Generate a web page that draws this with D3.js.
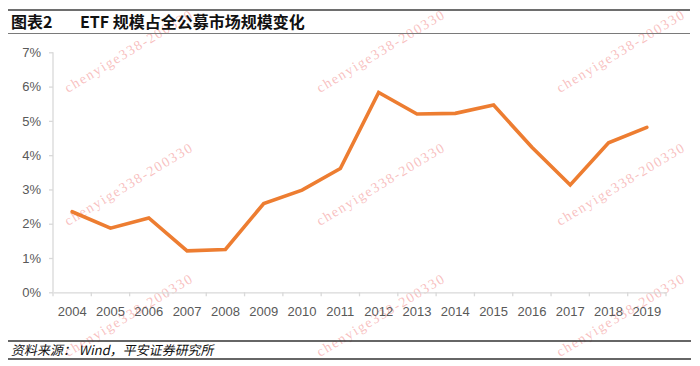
<!DOCTYPE html>
<html>
<head>
<meta charset="utf-8">
<script src="https://cdn.jsdelivr.net/npm/d3@7"></script>
<style>
  html, body { margin: 0; padding: 0; background: #fff; }
  svg { display: block; }
</style>
</head>
<body>
<svg id="chart" width="700" height="366"></svg>
<script>
// ---- data ----
const years = ["2004","2005","2006","2007","2008","2009","2010","2011","2012","2013","2014","2015","2016","2017","2018","2019"];
const etfShare = [2.35, 1.87, 2.17, 1.21, 1.25, 2.59, 2.98, 3.61, 5.83, 5.20, 5.22, 5.46, 4.23, 3.13, 4.36, 4.81];
const yTicks = [0, 1, 2, 3, 4, 5, 6, 7];
const titleLabel = "图表2";
const titleText = "ETF 规模占全公募市场规模变化";
const sourceText = "资料来源： Wind，平安证券研究所";
const watermarkText = "chenyige338-200330";

const svg = d3.select("#chart");
const plotL = 53, plotR = 666, plotT = 52.3, plotB = 292.3;

const x = d3.scaleBand().domain(years).range([plotL, plotR]);
const y = d3.scaleLinear().domain([0, 7]).range([plotB, plotT]);

// watermarks (drawn underneath)
const wmCols = [68, 320, 560];
const wmRows = [93, 226, 357];
const wm = [];
wmRows.forEach(r => wmCols.forEach(c => wm.push([c, r])));
svg.append("g").selectAll("text").data(wm).join("text")
  .attr("transform", d => `translate(${d[0]},${d[1]}) rotate(-31)`)
  .attr("font-family", "'Liberation Serif', serif").attr("font-size", 14)
  .attr("textLength", 146).attr("lengthAdjust", "spacing")
  .attr("fill", "#f28b8b").attr("fill-opacity", 0.55)
  .text(watermarkText);

// header lines
svg.append("line").attr("x1", 8).attr("x2", 690).attr("y1", 10).attr("y2", 10)
  .attr("stroke", "#6e6e6e").attr("stroke-width", 2);
svg.append("line").attr("x1", 8).attr("x2", 690).attr("y1", 33.5).attr("y2", 33.5)
  .attr("stroke", "#7a7a7a").attr("stroke-width", 1);

svg.append("text").attr("x", 11).attr("y", 28)
  .attr("font-family", "'Noto Sans CJK SC', sans-serif").attr("font-weight", "bold")
  .attr("font-size", 16).attr("fill", "#111").text(titleLabel);
svg.append("text").attr("x", 80).attr("y", 28)
  .attr("font-family", "'Noto Sans CJK SC', sans-serif").attr("font-weight", "bold")
  .attr("font-size", 16).attr("fill", "#111").text(titleText);

// axes
const yAxis = d3.axisLeft(y).tickValues(yTicks).tickSize(4).tickPadding(8)
  .tickFormat(d => d + "%");
const gy = svg.append("g").attr("transform", `translate(${plotL},0)`).call(yAxis);
const xAxis = d3.axisBottom(x).tickSize(0).tickPadding(14);
const gx = svg.append("g").attr("transform", `translate(0,${plotB})`).call(xAxis);

[gx, gy].forEach(g => {
  g.selectAll("path.domain").attr("stroke", "#d9d9d9").attr("stroke-width", 1.3);
  g.selectAll(".tick line").attr("stroke", "#d9d9d9").attr("stroke-width", 1.3);
  g.selectAll("text").attr("font-family", "'Liberation Sans', Arial, sans-serif")
    .attr("font-size", 13).attr("fill", "#595959");
});
gy.select("path.domain").attr("d", `M0,${plotT}V${plotB}`);
// category boundary ticks on x axis
gx.selectAll(".boundary").data(d3.range(years.length + 1)).join("line")
  .attr("class", "boundary")
  .attr("x1", i => plotL + i * x.step()).attr("x2", i => plotL + i * x.step())
  .attr("y1", 0).attr("y2", 4).attr("stroke", "#d9d9d9").attr("stroke-width", 1.3);

// line
const line = d3.line()
  .x((d, i) => x(years[i]) + x.bandwidth() / 2)
  .y(d => y(d));
svg.append("path").datum(etfShare).attr("d", line)
  .attr("fill", "none").attr("stroke", "#ED7D31").attr("stroke-width", 3.6)
  .attr("stroke-linejoin", "miter").attr("stroke-linecap", "round");

// footer
svg.append("line").attr("x1", 8).attr("x2", 691).attr("y1", 341).attr("y2", 341)
  .attr("stroke", "#333").attr("stroke-width", 1.3);
svg.append("line").attr("x1", 8).attr("x2", 691).attr("y1", 359).attr("y2", 359)
  .attr("stroke", "#333").attr("stroke-width", 1.3);
svg.append("text").attr("x", 0).attr("y", 0)
  .attr("font-family", "'Noto Sans CJK SC', sans-serif")
  .attr("font-size", 13).attr("fill", "#111")
  .attr("transform", "translate(11,355) skewX(-12)")
  .text(sourceText);
</script>
</body>
</html>
